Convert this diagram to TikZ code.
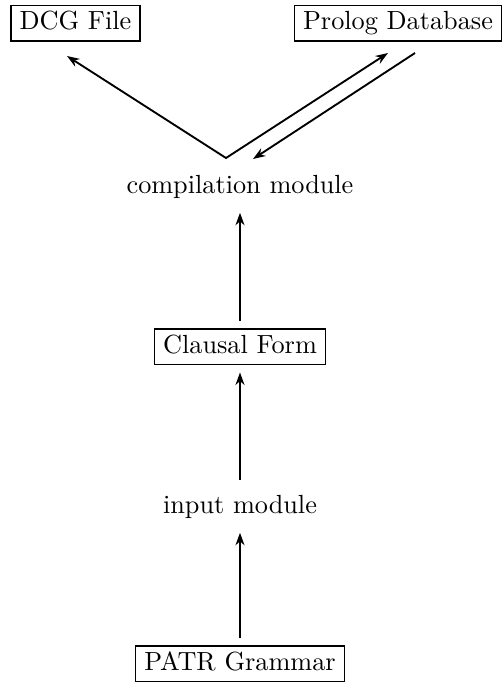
\documentclass[tikz,border=0pt]{standalone}
\usetikzlibrary{arrows.meta}

\begin{document}
\begin{tikzpicture}[x=0.4pt, y=-0.4pt, >={Stealth[length=5pt,width=3.6pt]}, line width=0.75pt,
    font=\fontsize{10.5pt}{12pt}\selectfont]
  \tikzset{
    filebox/.style={draw, line width=0.6pt, inner xsep=3.5pt, inner ysep=2.5pt, text height=7.2pt, text depth=2pt},
    modtext/.style={inner sep=2.5pt},
    flow/.style={->, shorten >=3pt, shorten <=3pt}
  }
  \useasboundingbox (0,0) rectangle (503,682);

  % output files (top)
  \node[filebox] (dcg) at (75.5,23) {DCG File};
  \node[filebox] (prolog) at (398,23) {Prolog Database};

  % modules and intermediate form
  \node[modtext, anchor=base] (comp) at (240,193) {compilation module};
  \node[filebox] (clausal) at (240,346.5) {Clausal Form};
  \node[modtext, anchor=base] (input) at (240,513) {input module};
  \node[filebox] (patr) at (240,663.5) {PATR Grammar};

  % free ends of the slanted arrows
  \coordinate (apex) at (226,158);
  \coordinate (dcgtip) at (67,56);
  \coordinate (dbtip) at (388,53);
  \coordinate (dbout) at (415,53);
  \coordinate (compin) at (253,159);

  % compilation module <-> files
  \draw[<->] (dcgtip) -- (apex) -- (dbtip);
  \draw[->] (dbout) -- (compin);

  % bottom-up flow
  \draw[flow] (patr) -- (input);
  \draw[flow] (input) -- (clausal);
  \draw[flow] (clausal) -- (comp);
\end{tikzpicture}
\end{document}
